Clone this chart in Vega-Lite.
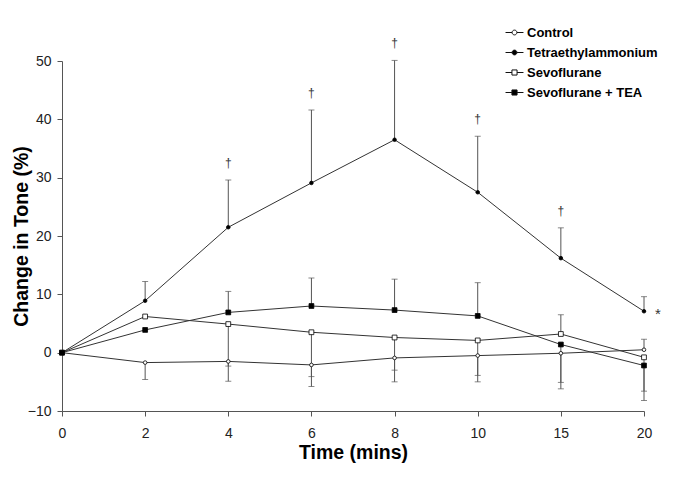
{
  "$schema": "https://vega.github.io/schema/vega-lite/v6.json",
  "autosize": {"type": "none"},
  "width": 582,
  "height": 350,
  "padding": {"left": 62, "top": 61, "right": 41, "bottom": 68},
  "background": "white",
  "config": {
    "view": {"stroke": null},
    "font": "Liberation Sans",
    "axis": {
      "grid": false,
      "domainColor": "#555",
      "tickColor": "#555",
      "labelFont": "Liberation Sans",
      "labelFontSize": 14,
      "labelColor": "#222",
      "titleFont": "Liberation Sans",
      "titleFontSize": 19.5,
      "titleFontWeight": "bold",
      "titleColor": "#000"
    }
  },
  "data": {
    "values": [
      {"series": "Control", "time": 0, "mean": 0, "err": null, "sig": null},
      {"series": "Control", "time": 2, "mean": -1.7, "err": -4.6, "sig": null},
      {"series": "Control", "time": 4, "mean": -1.5, "err": -4.9, "sig": null},
      {"series": "Control", "time": 6, "mean": -2.1, "err": -5.8, "sig": null},
      {"series": "Control", "time": 8, "mean": -0.9, "err": -5.0, "sig": null},
      {"series": "Control", "time": 10, "mean": -0.5, "err": -5.0, "sig": null},
      {"series": "Control", "time": 15, "mean": -0.1, "err": -5.1, "sig": null},
      {"series": "Control", "time": 20, "mean": 0.5, "err": 2.3, "sig": null},
      {"series": "Tetraethylammonium", "time": 0, "mean": 0, "err": null, "sig": null},
      {"series": "Tetraethylammonium", "time": 2, "mean": 8.9, "err": 12.2, "sig": null},
      {"series": "Tetraethylammonium", "time": 4, "mean": 21.5, "err": 29.6, "sig": "†"},
      {"series": "Tetraethylammonium", "time": 6, "mean": 29.1, "err": 41.6, "sig": "†"},
      {"series": "Tetraethylammonium", "time": 8, "mean": 36.5, "err": 50.1, "sig": "†"},
      {"series": "Tetraethylammonium", "time": 10, "mean": 27.5, "err": 37.1, "sig": "†"},
      {"series": "Tetraethylammonium", "time": 15, "mean": 16.2, "err": 21.4, "sig": "†"},
      {"series": "Tetraethylammonium", "time": 20, "mean": 7.1, "err": 9.6, "sig": "*"},
      {"series": "Sevoflurane", "time": 0, "mean": 0, "err": null, "sig": null},
      {"series": "Sevoflurane", "time": 2, "mean": 6.2, "err": null, "sig": null},
      {"series": "Sevoflurane", "time": 4, "mean": 4.9, "err": -2.3, "sig": null},
      {"series": "Sevoflurane", "time": 6, "mean": 3.5, "err": -4.1, "sig": null},
      {"series": "Sevoflurane", "time": 8, "mean": 2.6, "err": -3.0, "sig": null},
      {"series": "Sevoflurane", "time": 10, "mean": 2.1, "err": -3.9, "sig": null},
      {"series": "Sevoflurane", "time": 15, "mean": 3.2, "err": 6.5, "sig": null},
      {"series": "Sevoflurane", "time": 20, "mean": -0.8, "err": -6.6, "sig": null},
      {"series": "Sevoflurane + TEA", "time": 0, "mean": 0, "err": null, "sig": null},
      {"series": "Sevoflurane + TEA", "time": 2, "mean": 3.9, "err": null, "sig": null},
      {"series": "Sevoflurane + TEA", "time": 4, "mean": 6.9, "err": 10.5, "sig": null},
      {"series": "Sevoflurane + TEA", "time": 6, "mean": 8.0, "err": 12.8, "sig": null},
      {"series": "Sevoflurane + TEA", "time": 8, "mean": 7.3, "err": 12.6, "sig": null},
      {"series": "Sevoflurane + TEA", "time": 10, "mean": 6.3, "err": 12.0, "sig": null},
      {"series": "Sevoflurane + TEA", "time": 15, "mean": 1.4, "err": -6.2, "sig": null},
      {"series": "Sevoflurane + TEA", "time": 20, "mean": -2.2, "err": -8.2, "sig": null}
    ]
  },
  "encoding": {
    "x": {
      "field": "time",
      "type": "ordinal",
      "sort": "ascending",
      "scale": {"type": "point", "padding": 0},
      "axis": {"title": "Time (mins)", "labelAngle": 0, "tickSize": 5, "labelPadding": 10, "titlePadding": 3}
    }
  },
  "layer": [
    {
      "transform": [{"filter": "isValid(datum.err)"}],
      "mark": {"type": "rule", "color": "#555", "strokeWidth": 1},
      "encoding": {
        "y": {"field": "mean", "type": "quantitative"},
        "y2": {"field": "err"}
      }
    },
    {
      "transform": [{"filter": "isValid(datum.err)"}],
      "mark": {"type": "tick", "color": "#555", "size": 6, "thickness": 1, "orient": "horizontal"},
      "encoding": {
        "y": {"field": "err", "type": "quantitative"}
      }
    },
    {
      "mark": {"type": "line", "color": "#333", "strokeWidth": 1},
      "encoding": {
        "y": {
          "field": "mean",
          "type": "quantitative",
          "scale": {"domain": [-10, 50], "nice": false},
          "axis": {"title": "Change in Tone (%)", "values": [-10, 0, 10, 20, 30, 40, 50], "tickSize": 5, "labelPadding": 6, "titlePadding": -4}
        },
        "detail": {"field": "series"}
      }
    },
    {
      "transform": [{"filter": "datum.time === 0"}],
      "mark": {"type": "point", "size": 0, "filled": false, "strokeWidth": 1, "opacity": 1},
      "encoding": {
        "y": {"field": "mean", "type": "quantitative"},
        "shape": {
          "field": "series",
          "type": "nominal",
          "scale": {
            "domain": ["Control", "Tetraethylammonium", "Sevoflurane", "Sevoflurane + TEA"],
            "range": [
              "M-1.12,0L-0.3,0M0.3,0L1.12,0M-0.3,0A0.3,0.3,0,1,1,0.3,0A0.3,0.3,0,1,1,-0.3,0Z",
              "M-1.12,0L-0.3,0M0.3,0L1.12,0M-0.3,0A0.3,0.3,0,1,1,0.3,0A0.3,0.3,0,1,1,-0.3,0Z",
              "M-1.12,0L-0.32,0M0.32,0L1.12,0M-0.32,-0.32L0.32,-0.32L0.32,0.32L-0.32,0.32Z",
              "M-1.12,0L-0.32,0M0.32,0L1.12,0M-0.32,-0.32L0.32,-0.32L0.32,0.32L-0.32,0.32Z"
            ]
          },
          "legend": {
            "title": null,
            "orient": "none",
            "legendX": 444,
            "legendY": -37,
            "padding": 0,
            "rowPadding": 4,
            "symbolSize": 256,
            "symbolStrokeWidth": 1,
            "symbolOpacity": 1,
            "labelFont": "Liberation Sans",
            "labelFontSize": 13,
            "labelFontWeight": "bold",
            "labelColor": "#000",
            "labelOffset": 4
          }
        },
        "fill": {
          "field": "series",
          "type": "nominal",
          "scale": {"domain": ["Control", "Tetraethylammonium", "Sevoflurane", "Sevoflurane + TEA"], "range": ["white", "black", "white", "black"]}
        },
        "stroke": {
          "field": "series",
          "type": "nominal",
          "scale": {"domain": ["Control", "Tetraethylammonium", "Sevoflurane", "Sevoflurane + TEA"], "range": ["#111", "#111", "#111", "#111"]}
        }
      }
    },
    {
      "transform": [{"filter": "datum.series === 'Control' || datum.series === 'Tetraethylammonium'"}],
      "mark": {"type": "point", "shape": "circle", "size": 13, "filled": false, "stroke": "black", "strokeWidth": 0.8, "opacity": 1},
      "encoding": {
        "y": {"field": "mean", "type": "quantitative"},
        "fill": {"field": "series", "type": "nominal"}
      }
    },
    {
      "transform": [{"filter": "datum.series === 'Sevoflurane' || datum.series === 'Sevoflurane + TEA'"}],
      "mark": {"type": "point", "shape": "square", "size": 23, "filled": false, "stroke": "black", "strokeWidth": 0.8, "opacity": 1},
      "encoding": {
        "y": {"field": "mean", "type": "quantitative"},
        "fill": {"field": "series", "type": "nominal"}
      }
    },
    {
      "transform": [{"filter": "datum.sig === '†'"}],
      "mark": {"type": "text", "fontSize": 12, "dy": -17, "color": "#333", "opacity": 0.99, "font": "Liberation Sans"},
      "encoding": {
        "y": {"field": "err", "type": "quantitative"},
        "text": {"field": "sig"}
      }
    },
    {
      "transform": [{"filter": "datum.sig === '*'"}],
      "mark": {"type": "text", "fontSize": 15, "dx": 14, "dy": 3, "color": "#333", "opacity": 0.99, "font": "Liberation Sans"},
      "encoding": {
        "y": {"field": "mean", "type": "quantitative"},
        "text": {"field": "sig"}
      }
    }
  ]
}
